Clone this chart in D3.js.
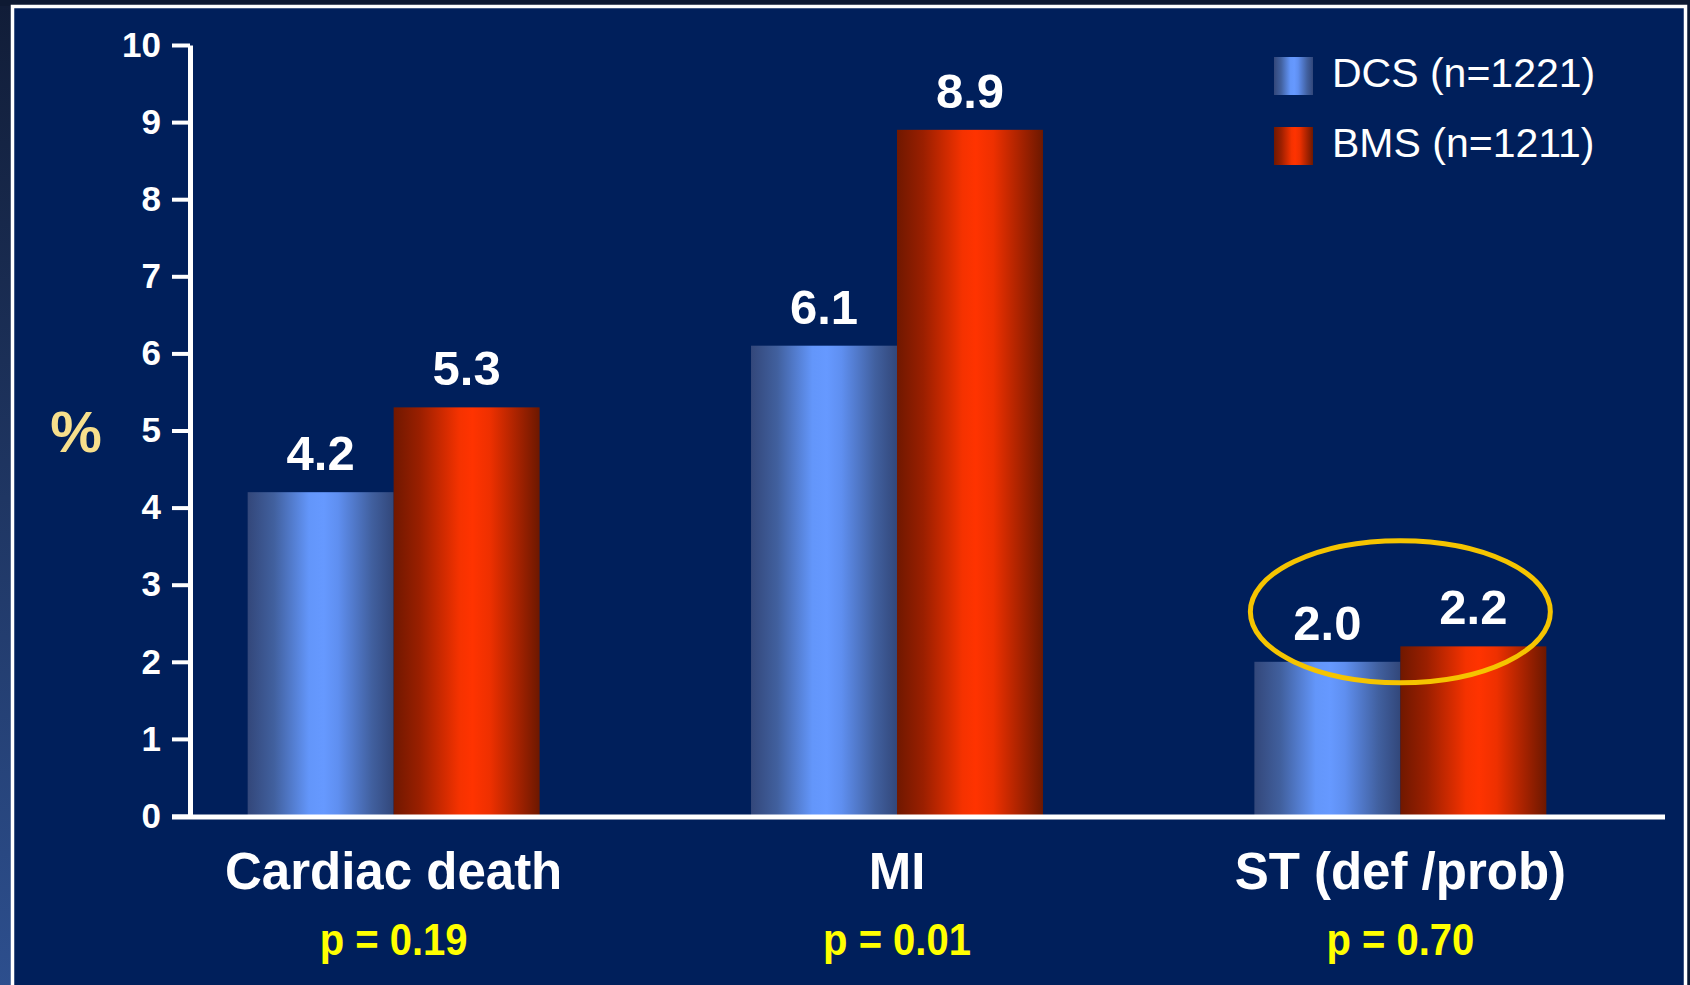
<!DOCTYPE html>
<html>
<head>
<meta charset="utf-8">
<script src="https://cdn.jsdelivr.net/npm/d3@7"></script>
<style>
  html, body { margin: 0; padding: 0; background: #0e1a33; }
  svg { display: block; }
  text { font-family: "Liberation Sans", Arial, Helvetica, sans-serif; }
</style>
</head>
<body>
<svg id="chart" width="1690" height="985"></svg>
<script>
// Outcome categories and the two stent groups
const categories = ["Cardiac death", "MI", "ST (def /prob)"];
const series = ["DCS", "BMS"];
const seriesLabels = ["DCS (n=1221)", "BMS (n=1211)"];
const dcsValues = [4.2, 6.1, 2.0];
const bmsValues = [5.3, 8.9, 2.2];
const pValues = ["p = 0.19", "p = 0.01", "p = 0.70"];
const yTicks = [0, 1, 2, 3, 4, 5, 6, 7, 8, 9, 10];
const highlighted = "ST (def /prob)";

const W = 1690, H = 985;
const svg = d3.select("#chart");
const defs = svg.append("defs");

// Slide background: dark surround, light left edge, navy panel with white frame
const edge = defs.append("linearGradient").attr("id", "edge")
  .attr("x1", 0).attr("y1", 0).attr("x2", 0).attr("y2", 1);
edge.append("stop").attr("offset", 0).attr("stop-color", "#111d38");
edge.append("stop").attr("offset", 1).attr("stop-color", "#2d4f8e");
svg.append("rect").attr("width", W).attr("height", H).attr("fill", "#0e1a33");
svg.append("rect").attr("x", 0).attr("y", 6).attr("width", 12).attr("height", H)
  .attr("fill", "url(#edge)");
svg.append("rect").attr("x", 12.5).attr("y", 6.5).attr("width", 1673).attr("height", H + 20)
  .attr("fill", "#001f5b").attr("stroke", "#ffffff").attr("stroke-width", 3.5);

// Cylinder-like horizontal shading for the bars
function shade(id, stops) {
  const g = defs.append("linearGradient").attr("id", id)
    .attr("x1", 0).attr("y1", 0).attr("x2", 1).attr("y2", 0);
  stops.forEach(([o, c]) => g.append("stop").attr("offset", o).attr("stop-color", c));
}
shade("grad-DCS", [[0, "#33477a"], [0.18, "#41609e"], [0.42, "#6396fa"], [0.52, "#6699ff"],
                   [0.62, "#5f8ff0"], [0.85, "#41609f"], [1, "#32477a"]]);
shade("grad-BMS", [[0, "#701800"], [0.18, "#9a1f00"], [0.45, "#f53200"], [0.54, "#ff3300"],
                   [0.66, "#ee3000"], [0.88, "#9a2000"], [1, "#6c1800"]]);

// Scales
const y = d3.scaleLinear().domain([0, 10]).range([816, 45]);
const x0 = d3.scaleBand().domain(categories).range([147, 1647])
  .paddingInner(0.42).paddingOuter(0.2);
const x1 = d3.scaleBand().domain(series).range([0, x0.bandwidth()]);
const valuesBySeries = { DCS: dcsValues, BMS: bmsValues };

// Bars
const groups = svg.append("g").selectAll("g")
  .data(categories).join("g")
  .attr("transform", d => `translate(${x0(d)},0)`);

groups.selectAll("rect")
  .data((c, i) => series.map(s => ({ s, v: valuesBySeries[s][i] })))
  .join("rect")
  .attr("x", d => x1(d.s))
  .attr("y", d => y(d.v))
  .attr("width", x1.bandwidth())
  .attr("height", d => y(0) - y(d.v))
  .attr("fill", d => `url(#grad-${d.s})`);

// Value labels above bars
groups.selectAll("text.value")
  .data((c, i) => series.map(s => ({ s, v: valuesBySeries[s][i] })))
  .join("text")
  .attr("class", "value")
  .attr("x", d => x1(d.s) + x1.bandwidth() / 2)
  .attr("y", d => y(d.v) - 22)
  .attr("text-anchor", "middle")
  .attr("fill", "#ffffff")
  .attr("font-weight", "bold")
  .attr("font-size", 49)
  .text(d => d.v.toFixed(1));

// Y axis
const yAxis = svg.append("g")
  .attr("transform", "translate(190,0)")
  .call(d3.axisLeft(y).tickValues(yTicks).tickSize(18).tickSizeOuter(0).tickPadding(11)
    .tickFormat(d3.format("d")));
yAxis.select(".domain").attr("stroke", "#ffffff").attr("stroke-width", 5);
yAxis.selectAll(".tick line").attr("stroke", "#ffffff").attr("stroke-width", 4);
yAxis.selectAll(".tick text")
  .attr("fill", "#ffffff")
  .attr("font-size", 35)
  .attr("font-weight", "bold")
  .attr("font-family", "'Liberation Sans', Arial, sans-serif");

// X axis baseline
svg.append("line")
  .attr("x1", 172).attr("x2", 1665)
  .attr("y1", y(0) + 1).attr("y2", y(0) + 1)
  .attr("stroke", "#ffffff").attr("stroke-width", 5);

// Y axis unit
svg.append("text")
  .attr("x", 76).attr("y", 452)
  .attr("text-anchor", "middle")
  .attr("fill", "#f7df8c")
  .attr("font-weight", "bold")
  .attr("font-size", 58)
  .text("%");

// Category labels and p-values
svg.append("g").selectAll("text")
  .data(categories).join("text")
  .attr("x", d => x0(d) + x0.bandwidth() / 2)
  .attr("y", 889)
  .attr("text-anchor", "middle")
  .attr("fill", "#ffffff")
  .attr("font-weight", "bold")
  .attr("font-size", 51)
  .text(d => d);

svg.append("g").selectAll("text")
  .data(pValues).join("text")
  .attr("transform", (d, i) => `translate(${x0(categories[i]) + x0.bandwidth() / 2},955) scale(1,1.1)`)
  .attr("text-anchor", "middle")
  .attr("fill", "#ffff00")
  .attr("font-weight", "bold")
  .attr("font-size", 40)
  .text(d => d);

// Highlight ring around the stent thrombosis values
svg.append("ellipse")
  .attr("cx", x0(highlighted) + x0.bandwidth() / 2)
  .attr("cy", y(2.65))
  .attr("rx", 150).attr("ry", 71)
  .attr("fill", "none")
  .attr("stroke", "#f5c400")
  .attr("stroke-width", 5);

// Legend
const legend = svg.append("g").attr("transform", "translate(1274,57)");
const items = legend.selectAll("g").data(series).join("g")
  .attr("transform", (d, i) => `translate(0,${i * 70})`);
items.append("rect")
  .attr("width", 39).attr("height", 38)
  .attr("fill", d => `url(#grad-${d})`);
items.append("text")
  .attr("x", 58).attr("y", 30)
  .attr("fill", "#ffffff")
  .attr("font-size", 41)
  .text((d, i) => seriesLabels[i]);
</script>
</body>
</html>
